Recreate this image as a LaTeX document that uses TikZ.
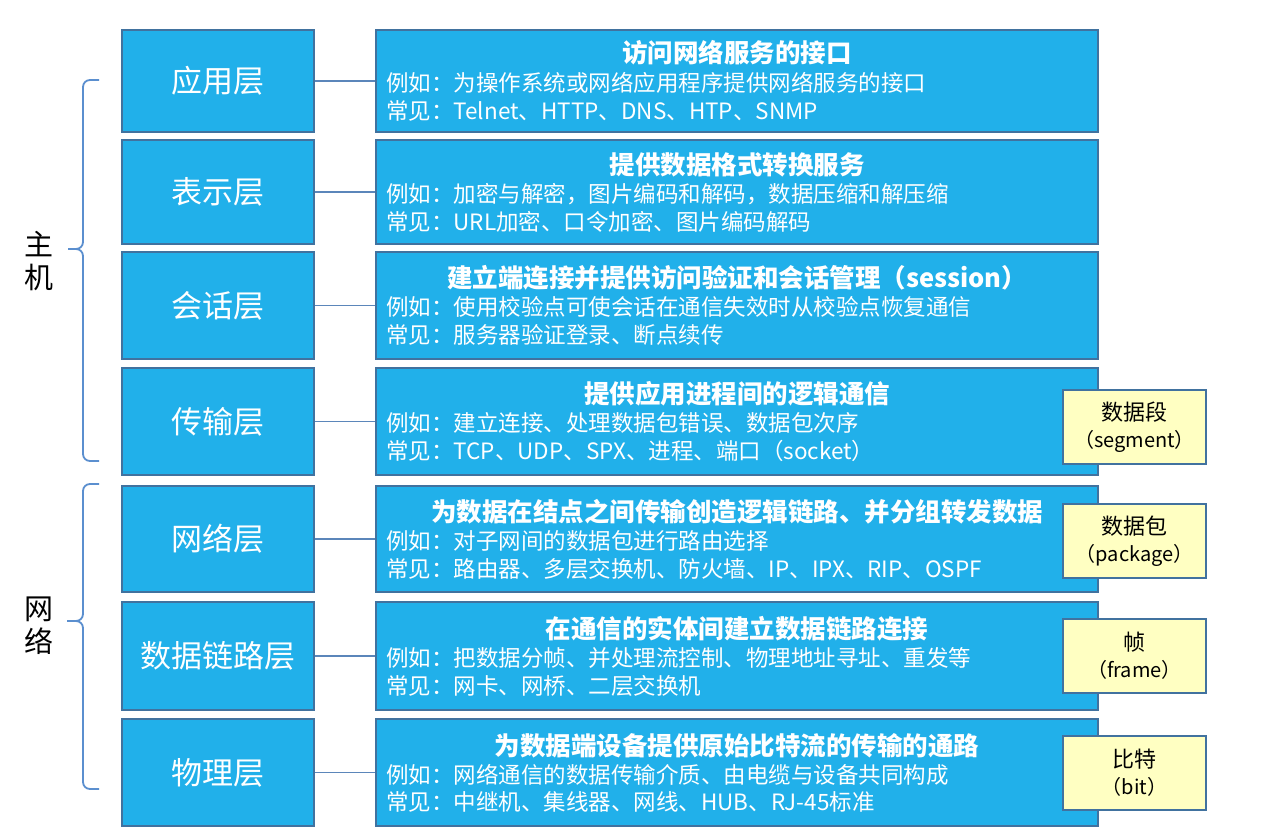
\documentclass[tikz,border=0pt]{standalone}
\usepackage{fontspec}
\setmainfont{Noto Sans CJK SC}
\definecolor{lblue}{HTML}{21B0EA}
\definecolor{bord}{HTML}{41729F}
\definecolor{ylw}{HTML}{FFFFC2}
\definecolor{lnk}{HTML}{5B86BA}
\definecolor{brc}{HTML}{5B8FCF}
\newcommand{\bigcjk}{\fontsize{22}{27}\selectfont}
\begin{document}
\begin{tikzpicture}[x=1pt,y=-1pt,
  layer/.style={draw=bord, line width=2.4pt, fill=lblue, text=white, minimum width=192pt, font=\fontsize{31}{36}\selectfont, inner sep=0pt},
  desc/.style={draw=bord, line width=2.4pt, fill=lblue, minimum width=722pt, inner sep=0pt},
  unit/.style={draw=bord, line width=1.6pt, fill=ylw, minimum width=143pt, minimum height=74pt, align=center, font=\fontsize{20}{27}\selectfont, inner sep=0pt},
  ttl/.style={text=white, font=\bfseries\fontsize{25.5}{30}\selectfont, inner sep=0pt, text height=22pt, text depth=3pt},
  txt/.style={text=white, anchor=west, font=\fontsize{22.5}{27}\selectfont, inner sep=0pt, text height=20pt, text depth=2.7pt},
  side/.style={align=center, font=\fontsize{29}{33}\selectfont, inner sep=0pt},
  conn/.style={draw=lnk, line width=1.4pt},
  brcs/.style={draw=brc, line width=1.8pt, rounded corners=7pt}]
\useasboundingbox[fill=white] (0,0) rectangle (1266,840);

% left layer boxes
\node[layer, minimum height=102pt] (L1) at (218,81) {应用层};
\node[layer, minimum height=104pt] (L2) at (218,192) {表示层};
\node[layer, minimum height=107pt] (L3) at (218,305.5) {会话层};
\node[layer, minimum height=107pt] (L4) at (218,421.5) {传输层};
\node[layer, minimum height=106pt] (L5) at (218,539) {网络层};
\node[layer, minimum height=108pt] (L6) at (218,656) {数据链路层};
\node[layer, minimum height=107pt] (L7) at (218,772.5) {物理层};

% right description boxes
\node[desc, minimum height=102pt] (R1) at (737,81) {};
\node[desc, minimum height=104pt] (R2) at (737,192) {};
\node[desc, minimum height=107pt] (R3) at (737,305.5) {};
\node[desc, minimum height=107pt] (R4) at (737,421.5) {};
\node[desc, minimum height=106pt] (R5) at (737,539) {};
\node[desc, minimum height=108pt] (R6) at (737,656) {};
\node[desc, minimum height=107pt] (R7) at (737,772.5) {};

% connectors
\draw[conn] (L1.east) -- (R1.west);
\draw[conn] (L2.east) -- (R2.west);
\draw[conn] (L3.east) -- (R3.west);
\draw[conn] (L4.east) -- (R4.west);
\draw[conn] (L5.east) -- (R5.west);
\draw[conn] (L6.east) -- (R6.west);
\draw[conn] (L7.east) -- (R7.west);

% texts
\node[ttl] (t1) at (737,53) {访问网络服务的接口};
\node[txt] (a1) at (386,83) {例如：为操作系统或网络应用程序提供网络服务的接口};
\node[txt] (b1) at (386,111) {常见：Telnet、HTTP、DNS、HTP、SNMP};

\node[ttl] (t2) at (737,165) {提供数据格式转换服务};
\node[txt] (a2) at (386,194) {例如：加密与解密，图片编码和解码，数据压缩和解压缩};
\node[txt] (b2) at (386,222) {常见：URL加密、口令加密、图片编码解码};

\node[ttl] (t3) at (737,278) {建立端连接并提供访问验证和会话管理（session）};
\node[txt] (a3) at (386,307) {例如：使用校验点可使会话在通信失效时从校验点恢复通信};
\node[txt] (b3) at (386,335) {常见：服务器验证登录、断点续传};

\node[ttl] (t4) at (737,394) {提供应用进程间的逻辑通信};
\node[txt] (a4) at (386,423) {例如：建立连接、处理数据包错误、数据包次序};
\node[txt] (b4) at (386,451) {常见：TCP、UDP、SPX、进程、端口（socket）};

\node[ttl] (t5) at (737,512) {为数据在结点之间传输创造逻辑链路、并分组转发数据};
\node[txt] (a5) at (386,541) {例如：对子网间的数据包进行路由选择};
\node[txt] (b5) at (386,569) {常见：路由器、多层交换机、防火墙、IP、IPX、RIP、OSPF};

\node[ttl] (t6) at (737,629) {在通信的实体间建立数据链路连接};
\node[txt] (a6) at (386,658) {例如：把数据分帧、并处理流控制、物理地址寻址、重发等};
\node[txt] (b6) at (386,686) {常见：网卡、网桥、二层交换机};

\node[ttl] (t7) at (737,746) {为数据端设备提供原始比特流的传输的通路};
\node[txt] (a7) at (386,775) {例如：网络通信的数据传输介质、由电缆与设备共同构成};
\node[txt] (b7) at (386,802) {常见：中继机、集线器、网线、HUB、RJ-45标准};

% data unit boxes
\node[unit] (u4) at (1134.5,427) {{\bigcjk 数据段}\\（segment）};
\node[unit] (u5) at (1134.5,541) {{\bigcjk 数据包}\\（package）};
\node[unit] (u6) at (1134.5,656) {{\bigcjk 帧}\\（frame）};
\node[unit] (u7) at (1134.5,773) {{\bigcjk 比特}\\（bit）};

% braces
\coordinate (h1) at (99,80);
\coordinate (h2) at (99,461);
\coordinate (hm) at (68,249);
\draw[brcs] (h1) -- (83,80) -- (83,249) -- (hm);
\draw[brcs] (hm) -- (83,249) -- (83,461) -- (h2);
\coordinate (n1) at (99,484);
\coordinate (n2) at (99,789);
\coordinate (nm) at (67,621);
\draw[brcs] (n1) -- (83,484) -- (83,621) -- (nm);
\draw[brcs] (nm) -- (83,621) -- (83,789) -- (n2);

\node[side] (host) at (39,261) {主\\机};
\node[side] (net) at (39,626) {网\\络};
\end{tikzpicture}
\end{document}
